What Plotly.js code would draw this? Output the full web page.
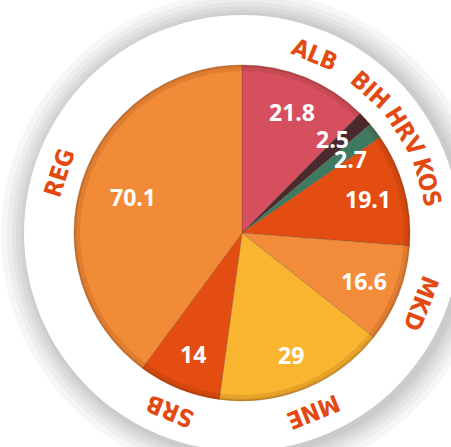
<!DOCTYPE html>
<html>
<head>
<meta charset="utf-8">
<script src="https://cdn.plot.ly/plotly-3.0.1.min.js"></script>
<style>html,body{margin:0;padding:0;background:#fff;}#chart{width:451px;height:447px;}</style>
</head>
<body>
<div id="chart"></div>
<script>
// ---- data ----
const categories = ["ALB", "BIH", "HRV", "KOS", "MKD", "MNE", "SRB", "REG"];
const values = [21.8, 2.5, 2.7, 19.1, 16.6, 29, 14, 70.1];
const valueLabels = ["21.8", "2.5", "2.7", "19.1", "16.6", "29", "14", "70.1"];
const sliceColors = ["#d64f5f", "#4b2a2f", "#3e7a62", "#e34d11", "#f28b3a", "#f9b530", "#e34d11", "#f28b38"];

// ---- layout geometry ----
const W = 451, H = 447;
const CX = 242, CY = 233, R = 168, RING = 218;
const px = x => x / W;
const py = y => (H - y) / H;

const total = values.reduce((a, b) => a + b, 0);
const mids = [];
let acc = 0;
values.forEach(v => { mids.push((acc + v / 2) / total * 360); acc += v; });

function spread(angles, minSep) {
  const out = angles.slice();
  for (let it = 0; it < 20; it++) {
    for (let i = 0; i < out.length - 1; i++) {
      const d = out[i + 1] - out[i];
      if (d < minSep) {
        const c = (out[i] + out[i + 1]) / 2;
        out[i] = c - minSep / 2; out[i + 1] = c + minSep / 2;
      }
    }
  }
  return out;
}
const outerAngles = spread(mids, 16);
const innerAngles = spread(mids, 12);

function pos(angleDeg, r) {
  const a = angleDeg * Math.PI / 180;
  return { x: px(CX + r * Math.sin(a)), y: py(CY - r * Math.cos(a)) };
}

const annotations = [];
categories.forEach((c, i) => {
  const p = pos(outerAngles[i], 192);
  annotations.push({
    xref: "paper", yref: "paper", x: p.x, y: p.y, xanchor: "center", yanchor: "middle",
    text: c, showarrow: false, textangle: outerAngles[i],
    font: { family: "DejaVu Sans Condensed", size: 24, color: "#e24a12", weight: "bold" }
  });
  const frac = values[i] / total > 0.35 ? 0.685 : 0.78;
  const q = pos(innerAngles[i], R * frac);
  annotations.push({
    xref: "paper", yref: "paper", x: q.x, y: q.y, xanchor: "center", yanchor: "middle",
    text: valueLabels[i], showarrow: false,
    font: { family: "Open Sans", size: 23, color: "#ffffff", weight: "bold" }
  });
});

function circle(cx, cy, r, fill, line, layer) {
  return {
    type: "circle", xref: "paper", yref: "paper", layer: layer || "below",
    x0: px(cx - r), x1: px(cx + r), y0: py(cy + r), y1: py(cy - r),
    fillcolor: fill, line: line || { width: 0 }
  };
}

const shapes = [];
[244, 238, 233, 229, 225, 222].forEach(r => shapes.push(circle(CX + 3, CY + 2, r, "rgba(0,0,0,0.035)")));
shapes.push(circle(CX, CY, RING, "#ffffff"));
// soft darkening at the pie rim
shapes.push(circle(CX, CY, R - 3, "rgba(0,0,0,0)", { width: 6, color: "rgba(90,30,0,0.12)" }, "above"));
shapes.push(circle(CX, CY, R - 1, "rgba(0,0,0,0)", { width: 2, color: "rgba(90,30,0,0.15)" }, "above"));

const trace = {
  type: "pie",
  labels: categories,
  values: values,
  sort: false,
  direction: "clockwise",
  rotation: 0,
  textinfo: "none",
  hoverinfo: "skip",
  marker: { colors: sliceColors, line: { color: "rgba(110,70,40,0.5)", width: 0.6 } },
  domain: { x: [px(CX - R), px(CX + R)], y: [py(CY + R), py(CY - R)] },
  showlegend: false
};

Plotly.newPlot("chart", [trace], {
  width: W, height: H,
  margin: { l: 0, r: 0, t: 0, b: 0 },
  paper_bgcolor: "#ffffff",
  showlegend: false,
  shapes: shapes,
  annotations: annotations
}, { displayModeBar: false, staticPlot: true });
</script>
</body>
</html>
